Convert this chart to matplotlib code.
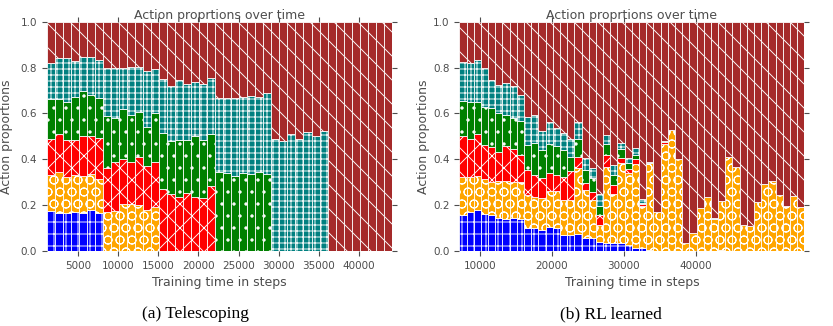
import numpy as np
import matplotlib.pyplot as plt

# drawn at 72 dpi so one hatch tile is 72 px (closer to the reference patterns)
DPI = 72
plt.rcParams['font.family'] = 'DejaVu Sans'
plt.rcParams['hatch.linewidth'] = 0.9

# one colour / hatch per action, stacked bottom to top
colors = ['#0000ff', '#ffa500', '#ff0000', '#008000', '#008080', '#a52a2a']
hatches = ['+', 'O', 'x', '.', '++', '\\']

# (a) Telescoping: one bar per 1000 training steps
steps_tele = np.arange(1600, 44000, 1000)
blue_tele = [.175, .165, .165, .17, .165, .18, .165,
             0, 0, 0, 0, 0, 0, 0,
             0, 0, 0, 0, 0, 0, 0,
             0, 0, 0, 0, 0, 0, 0,
             0, 0, 0, 0, 0, 0, 0,
             0, 0, 0, 0, 0, 0, 0, 0]
orange_tele = [.158, .18, .158, .16, .161, .155, .151,
               .17, .175, .204, .204, .2, .18, .192,
               0, 0, 0, 0, 0, 0, 0,
               0, 0, 0, 0, 0, 0, 0,
               0, 0, 0, 0, 0, 0, 0,
               0, 0, 0, 0, 0, 0, 0, 0]
red_tele = [.157, .167, .163, .156, .174, .165, .177,
            .192, .211, .196, .185, .21, .19, .197,
            .27, .25, .235, .255, .235, .23, .285,
            0, 0, 0, 0, 0, 0, 0,
            0, 0, 0, 0, 0, 0, 0,
            0, 0, 0, 0, 0, 0, 0, 0]
green_tele = [.172, .15, .164, .186, .196, .18, .172,
              .226, .192, .219, .203, .194, .169, .211,
              .243, .23, .249, .229, .265, .254, .224,
              .345, .339, .325, .339, .334, .346, .335,
              0, 0, 0, 0, 0, 0, 0,
              0, 0, 0, 0, 0, 0, 0, 0]
teal_tele = [.156, .178, .19, .158, .151, .167, .168,
             .208, .222, .177, .211, .199, .247, .193,
             .237, .24, .261, .246, .235, .246, .246,
             .32, .326, .34, .331, .341, .324, .355,
             .49, .48, .508, .487, .517, .5, .523,
             0, 0, 0, 0, 0, 0, 0, 0]

# (b) RL learned
steps_rl = np.arange(7633, 55000, 1000)
blue_rl = [.157, .169, .179, .16, .157, .142, .14, .145, .14, .099,
           .099, .09, .105, .1, .07, .07, .074, .055, .058, .04,
           .036, .033, .033, .026, .015, .012, .004, 0, 0, 0,
           0, 0, 0, 0, 0, 0, .005, 0, 0, 0,
           0, 0, 0, 0, 0, 0, 0, 0]
orange_rl = [.164, .152, .149, .154, .145, .163, .165, .157, .162, .145,
             .138, .14, .155, .16, .152, .152, .286, .211, .164, .073,
             .332, .217, .349, .313, .365, .183, .381, .17, .465, .527,
             .403, .034, .077, .187, .237, .138, .211, .408, .368, .113,
             .108, .213, .293, .305, .244, .196, .241, .193]
red_rl = [.182, .167, .182, .148, .153, .128, .154, .143, .117, .109,
          .094, .087, .08, .07, .102, .128, .051, .029, .037, .045,
          .051, .037, .022, .017, .02, .01, 0, 0, .01, 0,
          0, 0, 0, 0, 0, 0, 0, 0, 0, 0,
          0, 0, 0, 0, 0, 0, 0, 0]
green_rl = [.151, .16, .138, .167, .167, .167, .134, .133, .148, .109,
            .138, .123, .125, .13, .116, .06, .076, .058, .058, .038,
            .046, .043, .039, .026, .02, .005, 0, 0, 0, 0,
            0, 0, 0, 0, 0, 0, 0, 0, 0, 0,
            0, 0, 0, 0, 0, 0, 0, 0]
teal_rl = [.172, .17, .185, .168, .124, .124, .138, .143, .113, .124,
           .124, .085, .099, .075, .073, .08, .077, .051, .043, .054,
           .041, .045, .027, .022, .028, .015, .005, 0, .003, 0,
           0, 0, 0, 0, 0, .005, 0, 0, 0, 0,
           0, 0, 0, 0, 0, 0, 0, 0]


def stacked(ax, steps, parts, xlim, xticks):
    parts = [np.array(p, dtype=float) for p in parts]
    parts.append(1.0 - np.sum(parts, axis=0))  # rest of the time: last action
    bottom = np.zeros(len(steps))
    for vals, c, h in zip(parts, colors, hatches):
        ax.bar(steps, vals, width=1000, bottom=bottom, color=c,
               edgecolor='white', hatch=h, linewidth=0.8)
        bottom += vals
    ax.set_xlim(xlim)
    ax.set_ylim(0, 1)
    ax.set_xticks(xticks)
    ax.set_yticks([0, 0.2, 0.4, 0.6, 0.8, 1.0])
    for s in ax.spines.values():
        s.set_visible(False)
    ax.tick_params(direction='out', top=True, right=True, labelsize=10.4,
                   colors='0.3', length=4.8, width=1.1, pad=4.8)
    ax.set_title('Action proprtions over time', fontsize=12.5, color='0.3', pad=2.8)
    ax.set_xlabel('Training time in steps', fontsize=12.5, color='0.3', labelpad=5)
    ax.set_ylabel('Action proportions', fontsize=12.5, color='0.3')


fig = plt.figure(figsize=(833 / DPI, 326 / DPI), dpi=DPI)
ax1 = fig.add_axes([0.0561, 0.2301, 0.4142, 0.7034])
ax2 = fig.add_axes([0.5514, 0.2301, 0.4142, 0.7034])

stacked(ax1, steps_tele, [blue_tele, orange_tele, red_tele, green_tele, teal_tele],
        (1100, 44100), [5000, 10000, 15000, 20000, 25000, 30000, 35000, 40000])
stacked(ax2, steps_rl, [blue_rl, orange_rl, red_rl, green_rl, teal_rl],
        (7133, 55133), [10000, 20000, 30000, 40000])
ax1.yaxis.set_label_coords(-0.098, 0.5)
ax2.yaxis.set_label_coords(-0.086, 0.5)

fig.text(196 / 833, 1 - 314 / 326, '(a) Telescoping', ha='center', va='center',
         family='Liberation Serif', fontsize=17.4)
fig.text(611 / 833, 1 - 314 / 326, '(b) RL learned', ha='center', va='center',
         family='Liberation Serif', fontsize=17.4)

fig.savefig('out.png', dpi=DPI)
